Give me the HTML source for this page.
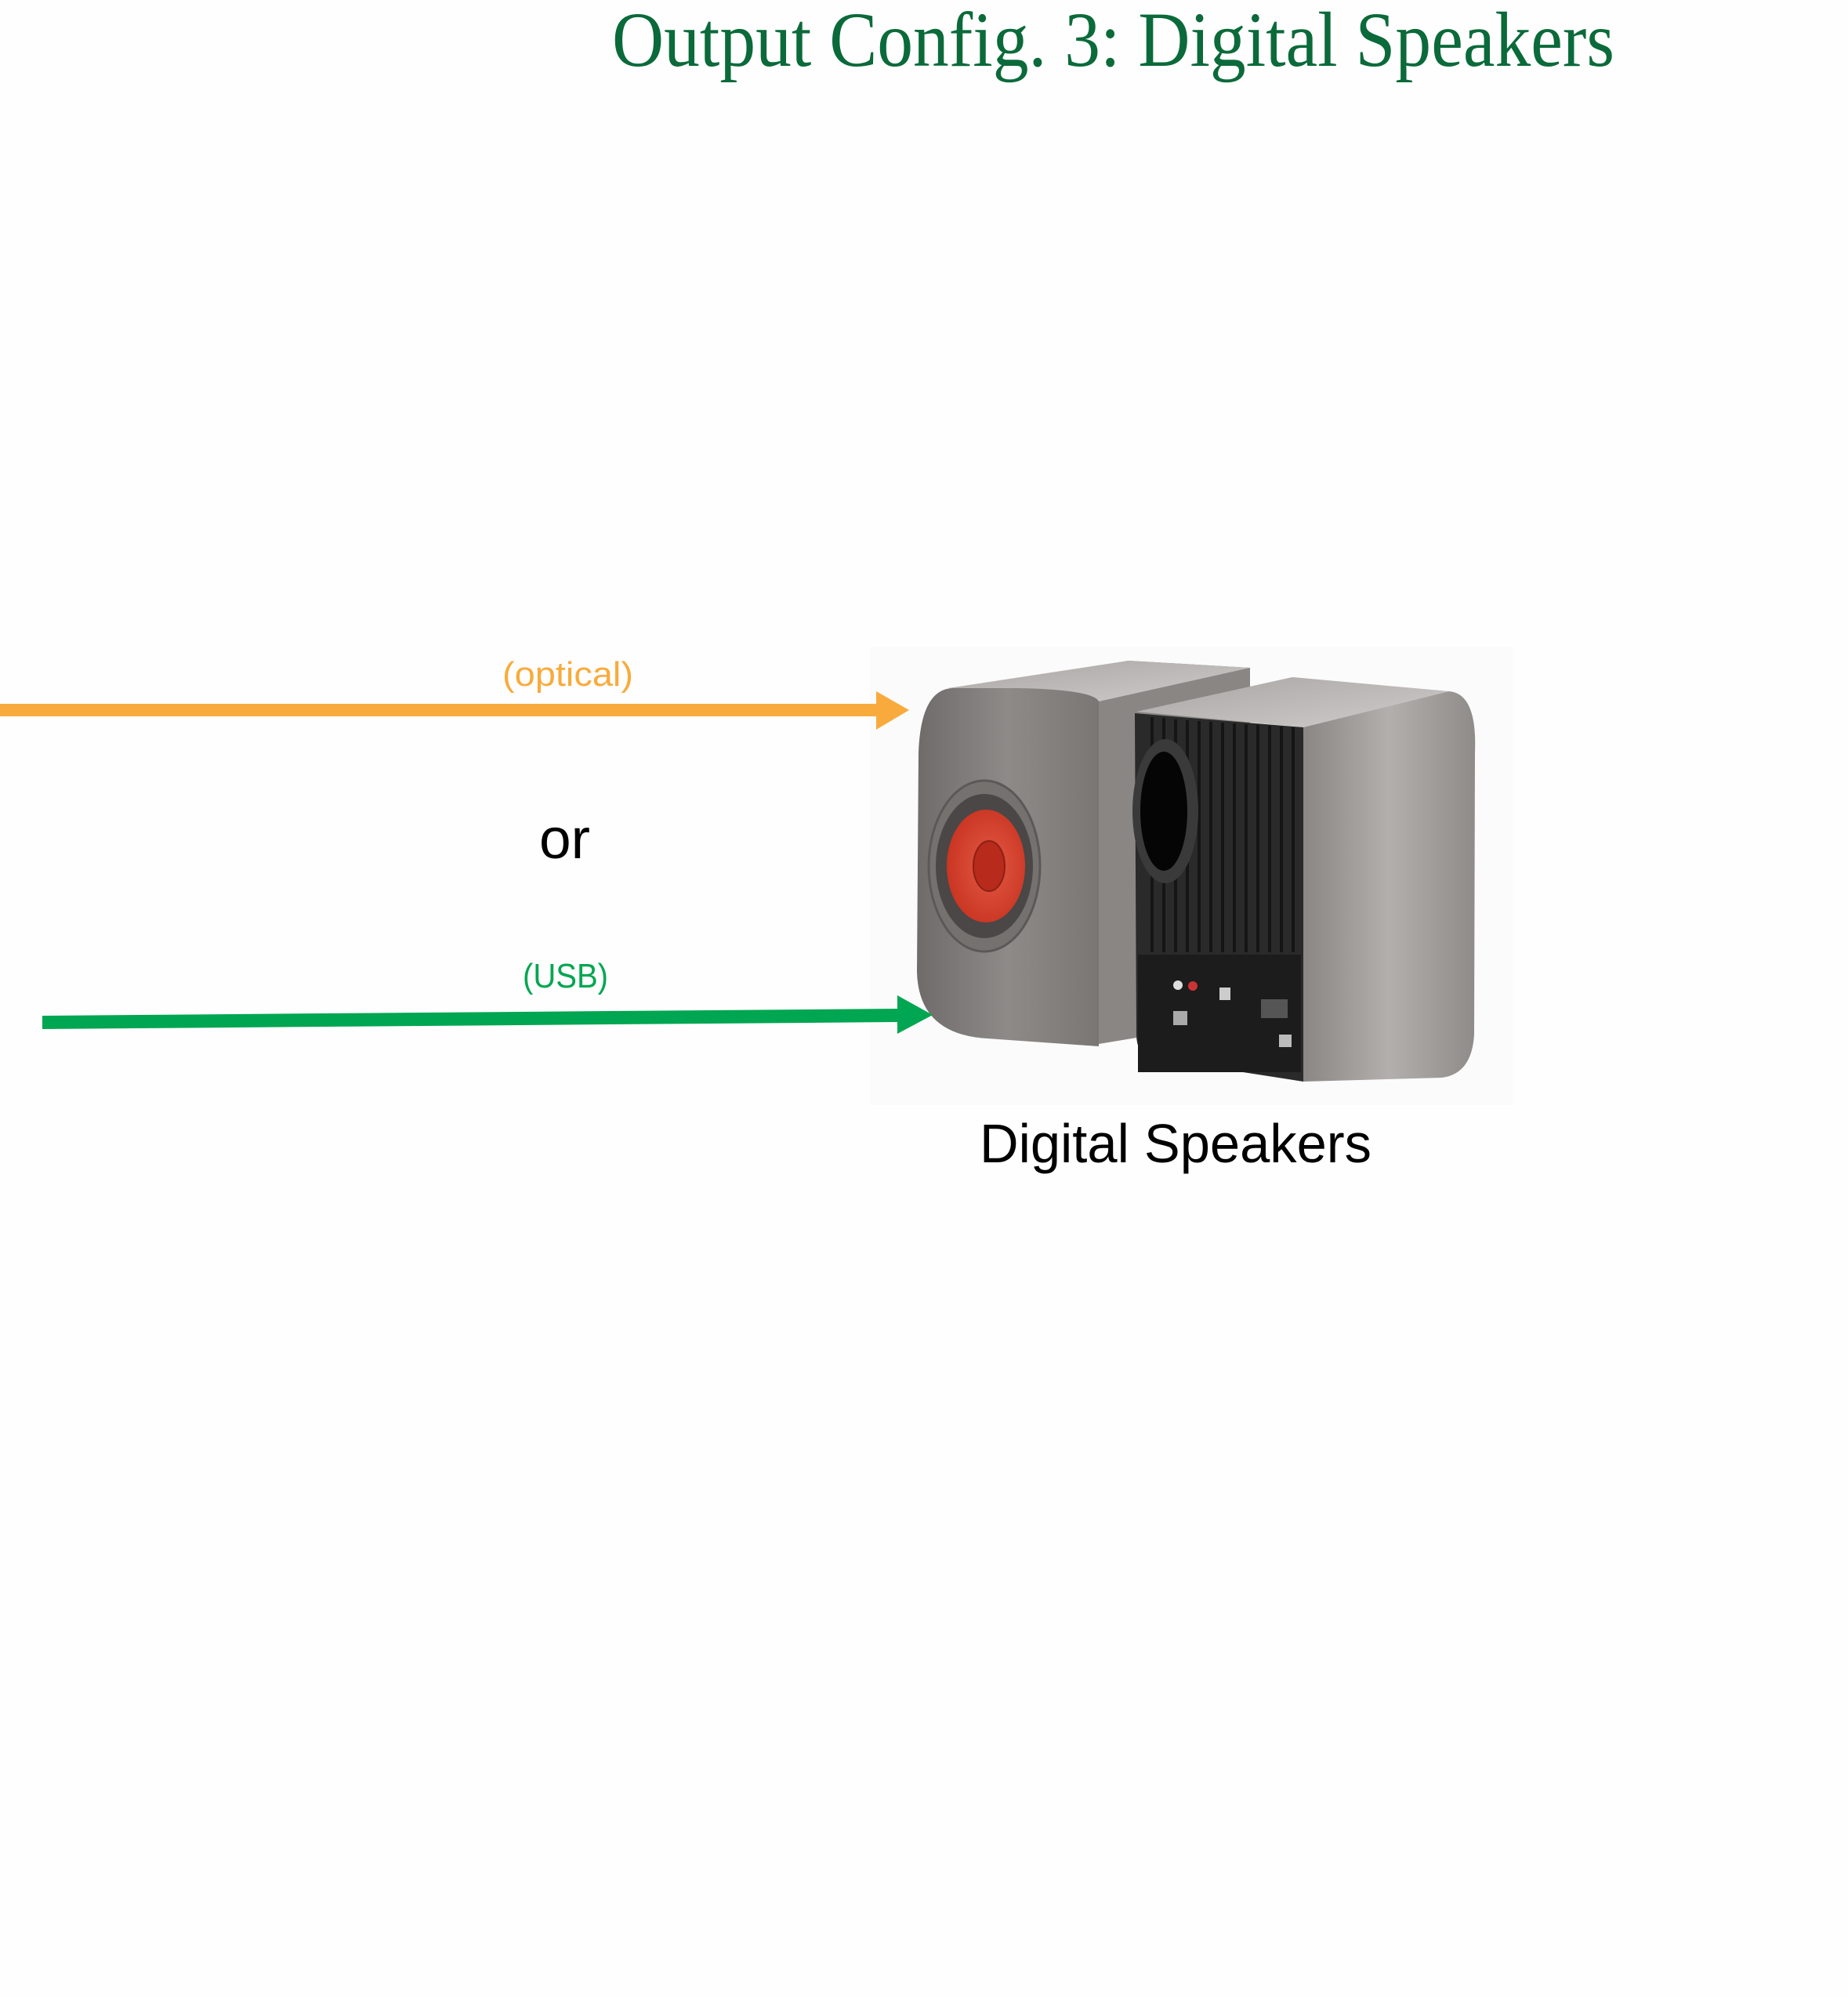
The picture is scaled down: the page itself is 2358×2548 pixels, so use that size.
<!DOCTYPE html>
<html><head><meta charset="utf-8"><style>
html,body{margin:0;padding:0;background:#fefefe;}
svg{display:block;}
</style></head><body>
<svg width="2358" height="2548" viewBox="0 0 2358 2548" xmlns="http://www.w3.org/2000/svg">
<defs>
<linearGradient id="lf" x1="0" y1="0" x2="1" y2="0"><stop offset="0" stop-color="#6f6b6a"/><stop offset="0.5" stop-color="#8e8a88"/><stop offset="1" stop-color="#7a7674"/></linearGradient>
<linearGradient id="rs" x1="0" y1="0" x2="1" y2="0"><stop offset="0" stop-color="#8a8684"/><stop offset="0.5" stop-color="#b3afad"/><stop offset="1" stop-color="#8f8b89"/></linearGradient>
<linearGradient id="tp" x1="0" y1="0" x2="1" y2="1"><stop offset="0" stop-color="#a9a5a3"/><stop offset="1" stop-color="#d0cccb"/></linearGradient>
<radialGradient id="red" cx="0.55" cy="0.5" r="0.6"><stop offset="0" stop-color="#e35a44"/><stop offset="1" stop-color="#c7321f"/></radialGradient>
</defs>
<rect width="2358" height="2548" fill="#fefefe"/>
<rect x="1110" y="825" width="820" height="585" fill="#fbfbfb"/>
<!-- title -->
<text x="781" y="84" font-family="Liberation Serif, serif" font-size="100" fill="#0b6a3a" textLength="1279" lengthAdjust="spacingAndGlyphs">Output Config. 3: Digital Speakers</text>
<!-- left speaker -->
<polygon points="1230,880 1440,843 1595,852 1595,1300 1402,1332" fill="#8a8684"/>
<path d="M1210,878 L1440,843 L1595,852 L1402,895 Z" fill="url(#tp)"/>
<path d="M1215,878 Q1175,880 1172,960 L1170,1240 Q1172,1320 1260,1325 L1402,1335 L1402,895 Q1395,880 1300,878 Z" fill="url(#lf)"/>
<ellipse cx="1256" cy="1105" rx="71" ry="109" fill="#75716f" stroke="#5c5857" stroke-width="3"/>
<ellipse cx="1256" cy="1105" rx="62" ry="92" fill="#4a4746"/>
<ellipse cx="1258" cy="1105" rx="50" ry="72" fill="url(#red)"/>
<ellipse cx="1262" cy="1105" rx="20" ry="32" fill="#b82a1c" stroke="#8e2014" stroke-width="2"/>
<!-- right speaker -->
<polygon points="1450,908 1649,864 1849,882 1663,928" fill="url(#tp)"/>
<path d="M1663,928 L1849,882 Q1885,885 1882,960 L1881,1320 Q1878,1370 1840,1375 L1663,1380 Z" fill="url(#rs)"/>
<path d="M1448,910 L1663,928 L1663,1380 L1470,1350 Q1450,1345 1450,1320 Z" fill="#2a2a2a"/>
<g stroke="#151515" stroke-width="4">
<line x1="1470" y1="915" x2="1470" y2="1215"/><line x1="1485" y1="916" x2="1485" y2="1215"/><line x1="1500" y1="918" x2="1500" y2="1215"/><line x1="1515" y1="919" x2="1515" y2="1215"/><line x1="1530" y1="920" x2="1530" y2="1215"/><line x1="1545" y1="921" x2="1545" y2="1215"/><line x1="1560" y1="922" x2="1560" y2="1215"/><line x1="1575" y1="923" x2="1575" y2="1215"/><line x1="1590" y1="924" x2="1590" y2="1215"/><line x1="1605" y1="925" x2="1605" y2="1215"/><line x1="1620" y1="926" x2="1620" y2="1215"/><line x1="1635" y1="927" x2="1635" y2="1215"/><line x1="1650" y1="928" x2="1650" y2="1215"/>
</g>
<ellipse cx="1487" cy="1035" rx="42" ry="92" fill="#3a3a3a"/>
<ellipse cx="1485" cy="1035" rx="30" ry="76" fill="#050505"/>
<rect x="1452" y="1218" width="208" height="150" fill="#1c1c1c"/>
<circle cx="1503" cy="1257" r="6" fill="#ddd"/><circle cx="1522" cy="1258" r="6" fill="#c33"/>
<rect x="1556" y="1260" width="14" height="16" fill="#ccc"/>
<rect x="1609" y="1275" width="34" height="24" fill="#555"/>
<rect x="1497" y="1290" width="18" height="18" fill="#aaa"/>
<rect x="1632" y="1320" width="16" height="16" fill="#bbb"/>
<!-- arrows -->
<rect x="0" y="898" width="1120" height="16" fill="#f8ab3c"/>
<polygon points="1118,882 1160,906 1118,931" fill="#f8ab3c"/>
<polygon points="54,1296 1147,1287 1147,1304 54,1313" fill="#00a651"/>
<polygon points="1145,1270 1190,1295 1145,1319" fill="#00a651"/>
<!-- labels -->
<text x="641" y="875" font-family="Liberation Sans, sans-serif" font-size="44" fill="#f8ab3c" textLength="167" lengthAdjust="spacingAndGlyphs">(optical)</text>
<text x="688" y="1095" font-family="Liberation Sans, sans-serif" font-size="72" fill="#000" textLength="65" lengthAdjust="spacingAndGlyphs">or</text>
<text x="667" y="1260" font-family="Liberation Sans, sans-serif" font-size="44" fill="#00a651" textLength="109" lengthAdjust="spacingAndGlyphs">(USB)</text>
<text x="1250" y="1483" font-family="Liberation Sans, sans-serif" font-size="70" fill="#000" textLength="500" lengthAdjust="spacingAndGlyphs">Digital Speakers</text>
</svg>
</body></html>
